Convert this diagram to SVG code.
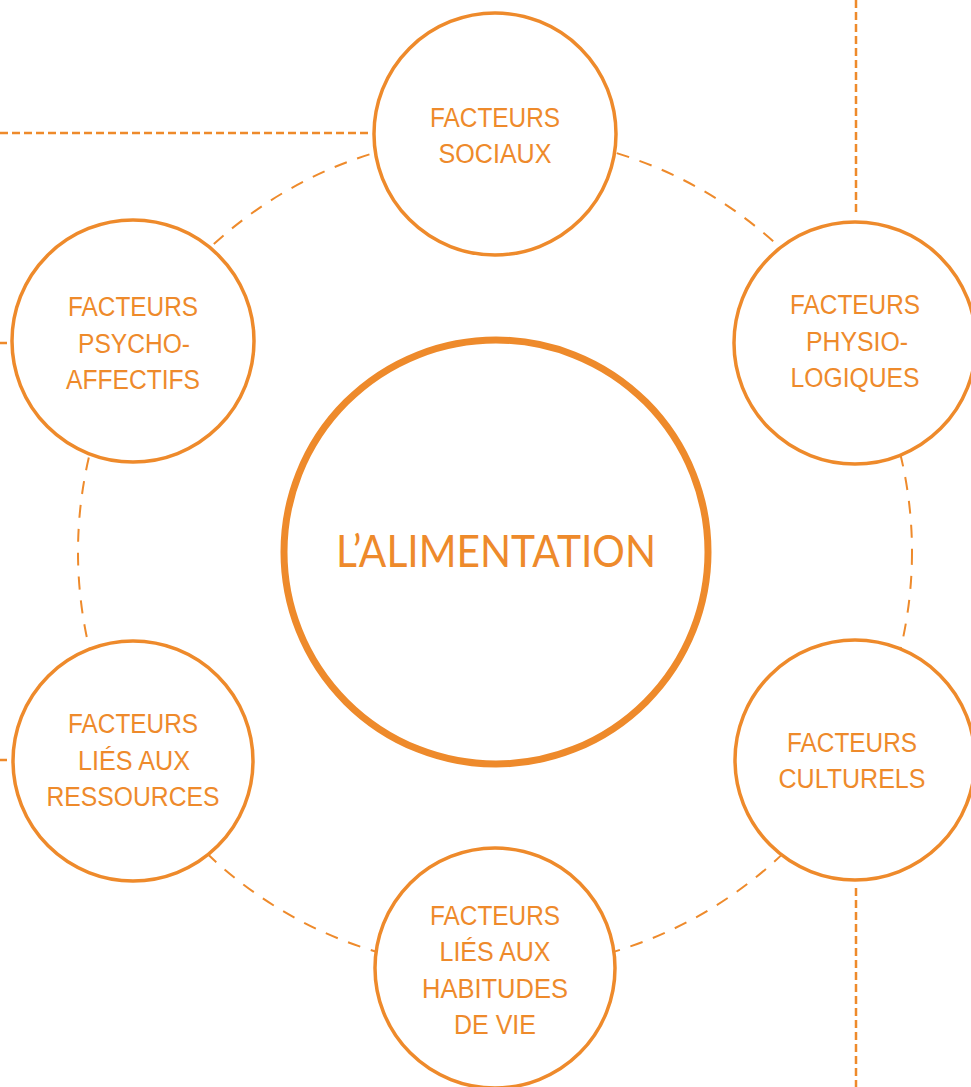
<svg xmlns="http://www.w3.org/2000/svg" width="971" height="1087" viewBox="0 0 971 1087">
<style>
.ring{fill:#fff;stroke:#EE8A2B;stroke-width:3.5}
.core{fill:#fff;stroke:#EE8A2B;stroke-width:7}
.lbl{font-family:"Liberation Sans",Arial,sans-serif;font-size:27px;fill:#EE8A2B;text-anchor:middle}
.title{font-family:Lato,"Open Sans",sans-serif;font-size:44px;fill:#EE8A2B;text-anchor:middle}
.dl{fill:none;stroke:#EE8A2B;stroke-width:2.5;stroke-dasharray:8 4}
.orbit{fill:none;stroke:#EE8A2B;stroke-width:2;stroke-dasharray:13 11}
.gap{fill:#fff}
</style>
<rect width="971" height="1087" fill="#fff"/>
<g id="connectors">
<circle class="orbit" cx="495" cy="552" r="417"/>
<line class="dl" x1="0" y1="133" x2="368" y2="133"/>
<line class="dl" x1="856" y1="0" x2="856" y2="215"/>
<line class="dl" x1="856" y1="888" x2="856" y2="1087"/>
<line class="dl" x1="0" y1="343" x2="7" y2="343"/>
<line class="dl" x1="0" y1="760" x2="7" y2="760"/>
</g>
<g id="center">
<circle class="core" cx="496" cy="552" r="212"/>
<text class="title" x="496" y="567" textLength="320" lengthAdjust="spacingAndGlyphs">L’ALIMENTATION</text>
</g>
<g id="sociaux">
<circle class="ring" cx="495" cy="134" r="121"/>
<text class="lbl" x="495" y="127" textLength="130" lengthAdjust="spacingAndGlyphs">FACTEURS</text>
<text class="lbl" x="495" y="163" textLength="113" lengthAdjust="spacingAndGlyphs">SOCIAUX</text>
</g>
<g id="physio">
<circle class="ring" cx="855" cy="343" r="121"/>
<text class="lbl" x="855" y="314" textLength="130" lengthAdjust="spacingAndGlyphs">FACTEURS</text>
<text class="lbl" x="857" y="351" textLength="102" lengthAdjust="spacingAndGlyphs">PHYSIO-</text>
<text class="lbl" x="855" y="387" textLength="129" lengthAdjust="spacingAndGlyphs">LOGIQUES</text>
</g>
<g id="culturels">
<circle class="ring" cx="855" cy="760" r="120"/>
<text class="lbl" x="852" y="752" textLength="130" lengthAdjust="spacingAndGlyphs">FACTEURS</text>
<text class="lbl" x="852" y="788" textLength="147" lengthAdjust="spacingAndGlyphs">CULTURELS</text>
</g>
<g id="habitudes">
<circle class="ring" cx="495" cy="968" r="120"/>
<text class="lbl" x="495" y="925" textLength="130" lengthAdjust="spacingAndGlyphs">FACTEURS</text>
<text class="lbl" x="495" y="961" textLength="111" lengthAdjust="spacingAndGlyphs">LIÉS AUX</text>
<text class="lbl" x="495" y="998" textLength="146" lengthAdjust="spacingAndGlyphs">HABITUDES</text>
<text class="lbl" x="495" y="1034" textLength="82" lengthAdjust="spacingAndGlyphs">DE VIE</text>
</g>
<g id="ressources">
<circle class="ring" cx="133" cy="761" r="120"/>
<text class="lbl" x="133" y="733" textLength="130" lengthAdjust="spacingAndGlyphs">FACTEURS</text>
<text class="lbl" x="134" y="770" textLength="112" lengthAdjust="spacingAndGlyphs">LIÉS AUX</text>
<text class="lbl" x="133" y="806" textLength="173" lengthAdjust="spacingAndGlyphs">RESSOURCES</text>
</g>
<g id="psycho">
<circle class="ring" cx="133" cy="341" r="121"/>
<text class="lbl" x="133" y="316" textLength="130" lengthAdjust="spacingAndGlyphs">FACTEURS</text>
<text class="lbl" x="134" y="353" textLength="112" lengthAdjust="spacingAndGlyphs">PSYCHO-</text>
<text class="lbl" x="133" y="389" textLength="134" lengthAdjust="spacingAndGlyphs">AFFECTIFS</text>
</g>
</svg>
